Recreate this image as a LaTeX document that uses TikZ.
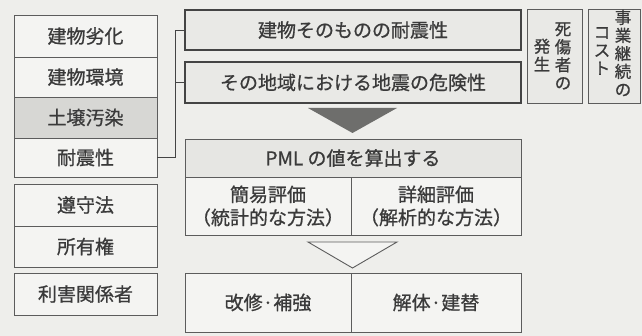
\documentclass[tikz,border=0pt]{standalone}
\usepackage{fontspec}
\setmainfont{Noto Sans CJK JP}[FakeBold=0.8]
\usetikzlibrary{calc}
\definecolor{bg}{HTML}{EEEEEB}
\definecolor{boxfill}{HTML}{F4F4F2}
\definecolor{grayfill}{HTML}{D7D7D4}
\definecolor{hdrfill}{HTML}{E6E6E3}
\definecolor{topfill}{HTML}{E9E9E6}
\definecolor{linec}{HTML}{5C5C5C}
\definecolor{darkline}{HTML}{444444}
\definecolor{txt}{HTML}{3A3A3A}
\definecolor{darktri}{HTML}{6E6E6C}
\begin{document}
\begin{tikzpicture}[x=1pt,y=-1pt,
  cell/.style={draw=linec, line width=0.9pt, fill=boxfill, text=txt, inner sep=0pt,
    font=\fontsize{19}{23}\selectfont, align=center},
  topcell/.style={cell, draw=darkline, line width=1.3pt, fill=topfill},
  vcol/.style={text=txt, inner sep=0pt, align=center, font=\fontsize{16.5}{18}\selectfont},
  conn/.style={draw=darkline, line width=0.9pt},
]
\useasboundingbox (0,0) rectangle (642,336);
\fill[bg] (0,0) rectangle (642,336);

% left column, first group
\node[cell, minimum width=143pt, minimum height=42pt] (L1) at (85.5,36) {建物劣化};
\node[cell, minimum width=143pt, minimum height=40pt] (L2) at (85.5,77) {建物環境};
\node[cell, fill=grayfill, minimum width=143pt, minimum height=41pt] (L3) at (85.5,117.5) {土壌汚染};
\node[cell, minimum width=143pt, minimum height=39pt] (L4) at (85.5,157.5) {耐震性};
% left column, second group
\node[cell, minimum width=143pt, minimum height=42pt] (M1) at (85.5,205) {遵守法};
\node[cell, minimum width=143pt, minimum height=41pt] (M2) at (85.5,246.5) {所有権};
% left column, third
\node[cell, minimum width=143pt, minimum height=42pt] (N1) at (85.5,294) {利害関係者};

% top middle boxes
\node[topcell, minimum width=336pt, minimum height=40pt] (A) at (353,30) {建物そのものの耐震性};
\node[topcell, minimum width=336pt, minimum height=41pt] (B) at (353,82.5) {その地域における地震の危険性};

% right vertical boxes
\node[cell, fill=topfill, minimum width=55pt, minimum height=94pt] (R1) at (554.5,56) {};
\node[vcol] (R1a) at (563,56) {死\\傷\\者\\の};
\node[vcol] (R1b) at (542,55) {発\\生};
\node[cell, fill=topfill, minimum width=52pt, minimum height=94pt] (R2) at (614,56) {};
\node[vcol] (R2a) at (623,53) {事\\業\\継\\続\\の};
\node[vcol] (R2b) at (602,51) {コ\\ス\\ト};

% connector
\coordinate (J) at (175,0);
\draw[conn] (L4.east) -- (L4.east -| J) |- (A.west);
\draw[conn] (B.west -| J) -- (B.west);

% dark triangle
\fill[darktri] (308,108) -- (397,108) -- (352.5,133) -- cycle;

% PML block
\node[cell, fill=hdrfill, minimum width=336pt, minimum height=38pt] (P0) at (353,158) {PML の値を算出する};
\node[cell, minimum width=166pt, minimum height=58pt] (P1) at (268,206) {簡易評価\\（統計的な方法）};
\node[cell, minimum width=170pt, minimum height=58pt] (P2) at (436,206) {詳細評価\\（解析的な方法）};

% light triangle
\filldraw[fill=boxfill, draw=linec, line width=0.9pt] (308,242) -- (397,242) -- (352.5,268) -- cycle;

% bottom block
\node[cell, minimum width=166pt, minimum height=59pt] (Q1) at (268,302.5) {改修·補強};
\node[cell, minimum width=170pt, minimum height=59pt] (Q2) at (436,302.5) {解体·建替};
\end{tikzpicture}
\end{document}
